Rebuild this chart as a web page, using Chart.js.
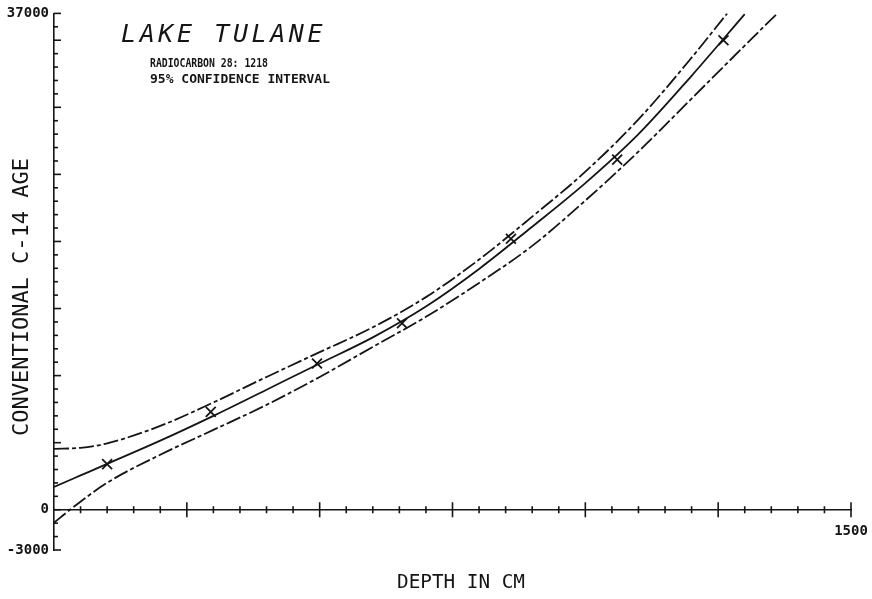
<!DOCTYPE html>
<html><head><meta charset="utf-8">
<script src="https://cdn.jsdelivr.net/npm/chart.js@4.4.1/dist/chart.umd.min.js"></script>
<style>html,body{margin:0;padding:0;background:#fff}#wrap{width:872px;height:599px;position:relative}</style>
</head><body><div id="wrap"><canvas id="c"></canvas></div>
<script>
const titleMain = 'LAKE TULANE';
const subtitleLines = ['RADIOCARBON 28: 1218', '95% CONFIDENCE INTERVAL'];
const xTitle = 'DEPTH IN CM';
const yTitle = 'CONVENTIONAL C-14 AGE';
const yTickLabels = [37000, 0, -3000];
const xTickLabels = [1500];

const sampleDepth = [100, 295, 495, 655, 860, 1060, 1260];
const sampleAge = [3400, 7300, 10900, 13900, 20200, 26100, 35000];

const fitDepth = [0, 50, 100, 200, 300, 400, 500, 600, 700, 800, 900, 1000, 1100, 1200, 1300];
const fitAge = [1700, 2560, 3420, 5150, 7000, 8950, 10900, 12850, 15150, 17950, 21100, 24350, 28000, 32350, 36950];

const upperDepth = [0, 50, 100, 200, 300, 400, 500, 600, 700, 800, 900, 1000, 1100, 1200, 1267];
const upperAge = [4540, 4620, 4950, 6250, 8000, 9900, 11750, 13600, 15850, 18650, 21850, 25200, 29100, 33700, 37000];

const lowerDepth = [0, 30, 100, 200, 300, 400, 500, 600, 700, 800, 900, 1000, 1100, 1200, 1300, 1360];
const lowerAge = [-970, 0, 2010, 4100, 5950, 7820, 9900, 12140, 14380, 16910, 19670, 23050, 26700, 30650, 34600, 36950];

const ink = '#151515';
const pts = (xs, ys) => xs.map((v, i) => ({x: v, y: ys[i]}));

const decor = {
  id: 'decor',
  afterDraw(chart) {
    const {ctx, scales: {x, y}} = chart;
    ctx.save();
    ctx.strokeStyle = ink; ctx.fillStyle = ink; ctx.lineWidth = 1.6;
    const x0 = x.getPixelForValue(0);
    y.ticks.forEach(t => {
      const py = y.getPixelForValue(t.value);
      const len = (t.value % 5000 === 0 || t.value === y.max || t.value === y.min) ? 7 : 4;
      ctx.beginPath(); ctx.moveTo(x0, py); ctx.lineTo(x0 + len, py); ctx.stroke();
    });
    const y0 = y.getPixelForValue(0);
    x.ticks.forEach(t => {
      if (t.value === 0) return;
      const px = x.getPixelForValue(t.value);
      const len = t.value % 250 === 0 ? 7.5 : 3.5;
      ctx.beginPath(); ctx.moveTo(px, y0 - len); ctx.lineTo(px, y0 + len); ctx.stroke();
    });
    // titles
    ctx.textBaseline = 'alphabetic';
    ctx.textAlign = 'left';
    ctx.font = "italic 25px 'DejaVu Sans Mono', monospace";
    ctx.letterSpacing = '3.6px';
    ctx.fillText(titleMain, 121, 42);
    ctx.letterSpacing = '0px';
    ctx.font = "bold 13px 'DejaVu Sans Mono', monospace";
    ctx.fillText(subtitleLines[0], 150, 67, 118);
    ctx.fillText(subtitleLines[1], 150, 83, 181);
    // axis titles
    ctx.font = "20px 'DejaVu Sans Mono', monospace";
    ctx.textAlign = 'center';
    ctx.textBaseline = 'middle';
    ctx.fillText(xTitle, 461, 583, 128);
    ctx.save();
    ctx.translate(22, 297);
    ctx.rotate(-Math.PI / 2);
    ctx.font = "22px 'DejaVu Sans Mono', monospace";
    ctx.fillText(yTitle, 0, 0, 282);
    ctx.restore();
    ctx.restore();
  }
};

new Chart(document.getElementById('c'), {
  type: 'scatter',
  data: {
    datasets: [
      {label: 'fit', data: pts(fitDepth, fitAge), showLine: true, borderColor: ink, borderWidth: 1.8,
       pointRadius: 0, cubicInterpolationMode: 'monotone', fill: false},
      {label: 'upper 95%', data: pts(upperDepth, upperAge), showLine: true, borderColor: ink, borderWidth: 1.8,
       borderDash: [15, 3, 4, 3], pointRadius: 0, cubicInterpolationMode: 'monotone', fill: false},
      {label: 'lower 95%', data: pts(lowerDepth, lowerAge), showLine: true, borderColor: ink, borderWidth: 1.8,
       borderDash: [15, 3, 4, 3], pointRadius: 0, cubicInterpolationMode: 'monotone', fill: false},
      {label: 'samples', data: pts(sampleDepth, sampleAge), showLine: false, pointStyle: 'crossRot',
       pointRadius: 7, borderColor: ink, pointBorderWidth: 1.8, backgroundColor: ink}
    ]
  },
  options: {
    responsive: true, maintainAspectRatio: false, animation: false,
    devicePixelRatio: 1,
    layout: {padding: {top: 13, right: 21, bottom: 49, left: 0}},
    plugins: {legend: {display: false}, tooltip: {enabled: false}, title: {display: false}},
    scales: {
      x: {
        type: 'linear', position: {y: 0}, min: 0, max: 1500,
        border: {display: true, color: ink, width: 1.6},
        grid: {display: true, drawOnChartArea: false, drawTicks: false},
        ticks: {stepSize: 50, autoSkip: false, maxRotation: 0, padding: 13, color: ink,
                font: {family: "'DejaVu Sans Mono', monospace", size: 14, weight: 'bold'},
                callback: v => xTickLabels.includes(v) ? String(v) : ''},
        afterFit: s => { s.paddingRight = 0; s.paddingLeft = 0; }
      },
      y: {
        type: 'linear', position: 'left', min: -3000, max: 37000,
        border: {display: true, color: ink, width: 1.6},
        grid: {display: true, drawOnChartArea: false, drawTicks: false},
        ticks: {stepSize: 1000, autoSkip: false, padding: 5, color: ink,
                font: {family: "'DejaVu Sans Mono', monospace", size: 14, weight: 'bold'},
                callback: v => yTickLabels.includes(v) ? String(v) : ''},
        afterFit: s => { s.width = 54; }
      }
    }
  },
  plugins: [decor]
});
</script>
</body></html>
